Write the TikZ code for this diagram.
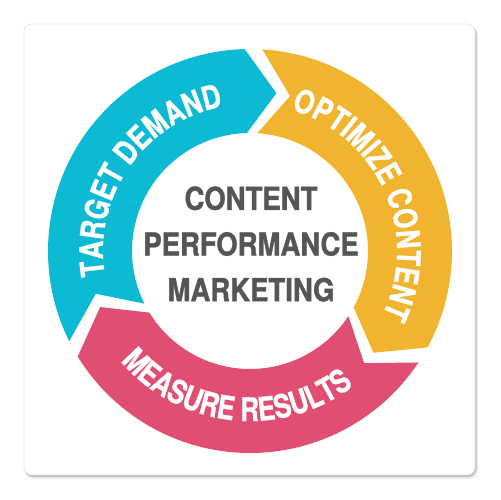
\documentclass[tikz,border=0pt]{standalone}
\usepackage{fontspec}
\usetikzlibrary{decorations.text}
\newfontfamily\cyclefont{TeX Gyre Heros}[FakeStretch=0.8, FakeBold=0.8]
\newfontfamily\hubfont{TeX Gyre Heros}[FakeStretch=0.87, FakeBold=1.2]
\definecolor{cycleteal}{RGB}{12,187,211}
\definecolor{cycleamber}{RGB}{240,180,46}
\definecolor{cyclerose}{RGB}{224,78,114}
\definecolor{hubgray}{RGB}{85,85,85}
\newcommand\ringtext{\cyclefont\bfseries\fontsize{18.5}{18.5}\selectfont}
\tikzset{
  ringlabel/.style={decorate, decoration={text along path, text align=center,
      text color=white, text={|\ringtext|#1}}}
}
\begin{document}
\begin{tikzpicture}[x=0.02cm,y=0.02cm]
	\useasboundingbox (0,0) rectangle (500,500);
	% card with its shadow
	\fill[black!8, rounded corners=5pt] (25,21) rectangle (478,474);
	\fill[black!25, rounded corners=5pt] (24.5,23) rectangle (476.5,475);
	\filldraw[fill=white, draw=black!10, rounded corners=4.5pt] (24,25) rectangle (475,476);
	
	\begin{scope}[shift={(250,249)}]
	% the three arrows of the cycle
	\fill[cycleteal] (206.5:202) arc[start angle=206.5, end angle=91.5, radius=202]
		-- (80.5:160) -- (91.5:118) arc[start angle=91.5, end angle=206.5, radius=118]
		-- (195.5:160) -- cycle;
	\fill[cycleamber] (86.5:202) arc[start angle=86.5, end angle=-28.5, radius=202]
		-- (-39.5:160) -- (-28.5:118) arc[start angle=-28.5, end angle=86.5, radius=118]
		-- (75.5:160) -- cycle;
	\fill[cyclerose] (-33.5:202) arc[start angle=-33.5, end angle=-148.5, radius=202]
		-- (-159.5:160) -- (-148.5:118) arc[start angle=-148.5, end angle=-33.5, radius=118]
		-- (-44.5:160) -- cycle;
	
	% labels on the ring
	\path[ringlabel={TARGET DEMAND}] (205:147) arc[start angle=205, end angle=85, radius=147];
	\path[ringlabel={OPTIMIZE CONTENT}] (84:147) arc[start angle=84, end angle=-36, radius=147];
	\path[ringlabel={MEASURE RESULTS}] (204:170) arc[start angle=204, end angle=324, radius=170];
	\end{scope}
	
	\node (hub) [align=center, text=hubgray, font=\hubfont\bfseries\fontsize{18}{26}\selectfont]
		at (251,256) {CONTENT\\PERFORMANCE\\MARKETING};
\end{tikzpicture}
\end{document}
